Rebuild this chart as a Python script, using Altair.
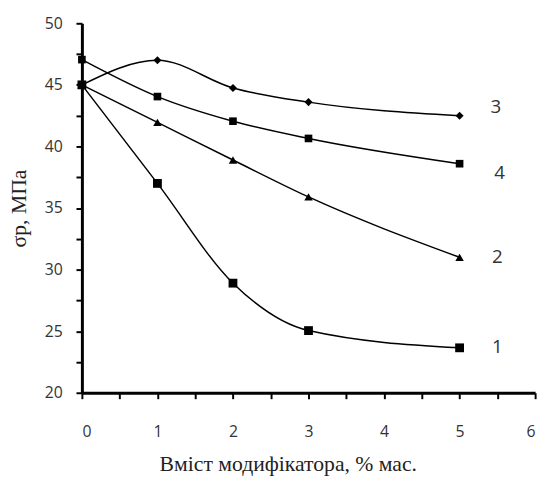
import altair as alt
import pandas as pd

x_vals = [0, 1, 2, 3, 5]
s1 = [45.0, 37.0, 28.9, 25.05, 23.65]
s2 = [45.0, 41.95, 38.9, 35.9, 31.0]
s3 = [45.0, 47.0, 44.75, 43.6, 42.5]
s4 = [47.05, 44.05, 42.05, 40.65, 38.6]
series_names = ["1", "2", "3", "4"]
label_x = [5.5, 5.5, 5.48, 5.53]
label_y = [23.7, 31.0, 43.2, 37.8]

rows = []
for name, vals in zip(series_names, [s1, s2, s3, s4]):
    for xv, yv in zip(x_vals, vals):
        rows.append({"x": xv, "y": yv, "s": name})
df = pd.DataFrame(rows)
lab = pd.DataFrame({"x": label_x, "y": label_y, "s": series_names})

xs = alt.Scale(domain=[0, 6], nice=False)
ys = alt.Scale(domain=[20, 50], nice=False, zero=False)

x_ticks = [i * 0.5 for i in range(13)]
y_ticks = [20 + i * 2.5 for i in range(13)]

xax = alt.Axis(values=x_ticks, format=".0f",
               labelExpr="datum.value % 1 == 0 ? format(datum.value, 'd') : ''",
               title="Вміст модифікатора, % мас.", labelPadding=25, titlePadding=15,
               titleX=209, titleAnchor="middle")
yax = alt.Axis(values=y_ticks, format=".0f",
               labelExpr="datum.value % 5 == 0 ? format(datum.value, 'd') : ''",
               title="σр, МПа", labelPadding=14, titlePadding=14)

base = alt.Chart(df)
lines = base.mark_line(interpolate="monotone", color="black", strokeWidth=1.5).encode(
    x=alt.X("x:Q", scale=xs, axis=xax),
    y=alt.Y("y:Q", scale=ys, axis=yax),
    detail="s:N",
)
points = base.mark_point(filled=True, color="black", opacity=1).encode(
    x=alt.X("x:Q", scale=xs, axis=xax),
    y=alt.Y("y:Q", scale=ys, axis=yax),
    shape=alt.Shape("s:N", scale=alt.Scale(domain=series_names,
                    range=["square", "triangle-up", "diamond", "square"]), legend=None),
    size=alt.Size("s:N", scale=alt.Scale(domain=series_names, range=[80, 60, 60, 30]), legend=None),
)
texts = alt.Chart(lab).mark_text(font="Open Sans", fontSize=19, color="#333", align="center", baseline="middle").encode(
    x=alt.X("x:Q", scale=xs, axis=xax),
    y=alt.Y("y:Q", scale=ys, axis=yax),
    text="s:N",
)

chart = (lines + points + texts).properties(
    width=460, height=375,
    autosize=alt.AutoSizeParams(type="none"),
    padding={"left": 75, "top": 12, "right": 8, "bottom": 84},
).configure_view(stroke=None).configure_axis(
    grid=False, domain=True, ticks=True,
    domainColor="black", domainWidth=3, tickColor="black", tickWidth=2, tickSize=6,
    labelFont="Open Sans", labelFontSize=16, labelColor="#333",
    titleFont="Liberation Serif", titleFontSize=22, titleFontWeight="normal", titleColor="#222",
)

chart.save("out.html", embed_options={"renderer": "svg", "actions": False})
